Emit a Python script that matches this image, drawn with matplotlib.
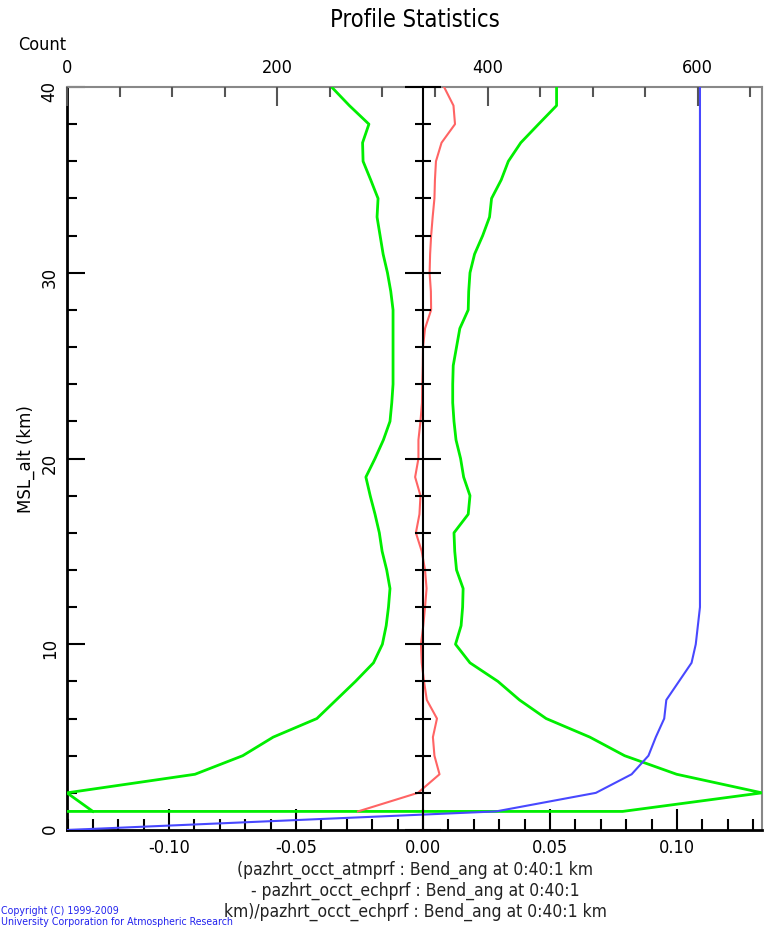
import matplotlib
matplotlib.use("Agg")
import matplotlib.pyplot as plt
import numpy as np
from matplotlib.ticker import MultipleLocator, FixedLocator, NullFormatter

# altitude grid (km), 0:40:1
alt = list(range(1, 41))

# mean of (atmprf - echprf)/echprf, 1..40 km
red_mean = [-0.0256, -0.0020, 0.0065, 0.0045, 0.0039, 0.0055, 0.0015, 0.0004, -0.0005, -0.0008,
            0.0001, 0.0008, 0.0014, 0.0008, -0.0005, -0.0028, -0.0014, -0.0010, -0.0031, -0.0018,
            -0.0018, -0.0010, -0.0004, -0.0003, -0.0001, 0.0000, 0.0008, 0.0032, 0.0031, 0.0026,
            0.0028, 0.0032, 0.0038, 0.0045, 0.0047, 0.0051, 0.0073, 0.0126, 0.0120, 0.0083]

# mean - stddev, 1..40 km
green_low = [-0.1300, -0.1402, -0.0898, -0.0710, -0.0590, -0.0418, -0.0342, -0.0266, -0.0195, -0.0160,
             -0.0145, -0.0136, -0.0130, -0.0143, -0.0161, -0.0172, -0.0189, -0.0208, -0.0225, -0.0189,
             -0.0156, -0.0130, -0.0123, -0.0118, -0.0118, -0.0118, -0.0118, -0.0118, -0.0127, -0.0140,
             -0.0157, -0.0169, -0.0181, -0.0177, -0.0206, -0.0236, -0.0238, -0.0213, -0.0290, -0.0360]

# mean + stddev, 1..40 km (first point joins the low curve at 1 km)
green_high_alt = [1] + alt
green_high = [-0.1402,
              0.0786, 0.1335, 0.0999, 0.0794, 0.0657, 0.0485, 0.0380, 0.0295, 0.0185, 0.0128,
              0.0150, 0.0156, 0.0158, 0.0132, 0.0125, 0.0122, 0.0178, 0.0185, 0.0160, 0.0148,
              0.0130, 0.0122, 0.0117, 0.0117, 0.0119, 0.0132, 0.0145, 0.0178, 0.0180, 0.0185,
              0.0203, 0.0235, 0.0262, 0.0270, 0.0308, 0.0336, 0.0385, 0.0455, 0.0526, 0.0526]

# number of profiles, 0..40 km
count_alt = list(range(0, 41))
count = [0, 408, 503, 537, 553, 560, 568, 570, 582, 594, 598, 600] + [602] * 29

NARROW = dict(family=["DejaVu Sans"], stretch="condensed")

fig = plt.figure(figsize=(7.67, 9.29), dpi=100)
ax = fig.add_axes([67 / 767, 1 - 831 / 929, (762 - 67) / 767, (831 - 88) / 929])

ax.plot(green_low, alt, color="#00ee00", lw=2.0, zorder=3)
ax.plot(green_high, green_high_alt, color="#00ee00", lw=2.0, zorder=3)
ax.plot(red_mean, alt, color="#ff6464", lw=1.5, zorder=4)

ax.set_xlim(-0.1402, 0.1335)
ax.set_ylim(0, 40)

ax.xaxis.set_major_locator(FixedLocator([-0.10, -0.05, 0.0, 0.05, 0.10]))
ax.xaxis.set_minor_locator(MultipleLocator(0.01))
ax.set_xticklabels(["-0.10", "-0.05", "0.00", "0.05", "0.10"], fontsize=13, **NARROW)
ax.yaxis.set_major_locator(MultipleLocator(10))
ax.yaxis.set_minor_locator(MultipleLocator(2))
ax.tick_params(axis="both", which="both", direction="in", right=True, color="black")
ax.tick_params(axis="x", which="major", length=15, width=1.5, pad=6)
ax.tick_params(axis="x", which="minor", length=8, width=1.5)
ax.tick_params(axis="y", which="major", length=13, width=1.5, labelsize=12, labelrotation=90, pad=6)
ax.tick_params(axis="y", which="minor", length=7, width=1.5)
ax.set_ylabel("MSL_alt (km)", fontsize=12, labelpad=4)

for side in ("left", "bottom"):
    ax.spines[side].set_linewidth(2)
    ax.spines[side].set_color("black")
for side in ("top", "right"):
    ax.spines[side].set_linewidth(1.5)
    ax.spines[side].set_color("#888888")

# count axis on top
ax2 = ax.twiny()
ax2.plot(count, count_alt, color="#4848ff", lw=1.5, zorder=3)
ax2.set_xlim(0, 661)
ax2.xaxis.set_major_locator(MultipleLocator(200))
ax2.xaxis.set_minor_locator(MultipleLocator(50))
ax2.tick_params(axis="x", which="both", direction="in", color="#555555")
ax2.tick_params(axis="x", which="major", length=14, width=1.5, pad=8)
ax2.tick_params(axis="x", which="minor", length=7, width=1.5)
for lab in ax2.get_xticklabels():
    lab.set_family(NARROW["family"])
    lab.set_stretch(NARROW["stretch"])
    lab.set_fontsize(13)
for side in ax2.spines:
    ax2.spines[side].set_visible(False)

# zero line with its own altitude ticks
ax3 = ax.twinx()
ax3.set_ylim(0, 40)
for side in ("top", "right", "bottom"):
    ax3.spines[side].set_visible(False)
ax3.spines["left"].set_position(("data", 0))
ax3.spines["left"].set_linewidth(1.5)
ax3.yaxis.set_ticks_position("left")
ax3.yaxis.set_major_locator(MultipleLocator(10))
ax3.yaxis.set_minor_locator(MultipleLocator(2))
ax3.yaxis.set_major_formatter(NullFormatter())
ax3.tick_params(axis="y", which="major", direction="inout", length=26, width=1.5)
ax3.tick_params(axis="y", which="minor", direction="inout", length=12, width=1.5)

fig.text(415 / 767, 1 - 20 / 929, "Profile Statistics", ha="center", va="center",
         fontsize=17, **NARROW)
fig.text(42 / 767, 1 - 45 / 929, "Count", ha="center", va="center", fontsize=13, **NARROW)

xlabel_lines = ["(pazhrt_occt_atmprf : Bend_ang at 0:40:1 km",
                "- pazhrt_occt_echprf : Bend_ang at 0:40:1",
                "km)/pazhrt_occt_echprf : Bend_ang at 0:40:1 km"]
fig.text(415 / 767, 1 - 861 / 929, "\n".join(xlabel_lines), ha="center", va="top",
         fontsize=12.5, linespacing=1.17, color="#222222", **NARROW)

fig.text(1 / 767, 1 - 911 / 929, "Copyright (C) 1999-2009", ha="left", va="center",
         fontsize=7.6, color="#2222ee", **NARROW)
fig.text(1 / 767, 1 - 922 / 929, "University Corporation for Atmospheric Research", ha="left",
         va="center", fontsize=7.6, color="#2222ee", **NARROW)

fig.savefig("out.png", dpi=100)
